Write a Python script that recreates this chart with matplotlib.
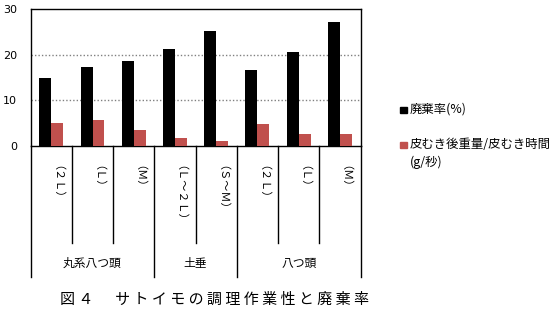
import matplotlib
matplotlib.use("Agg")
import matplotlib.pyplot as plt
from matplotlib.patches import Rectangle
import numpy as np

plt.rcParams['font.family'] = ['Noto Sans CJK JP', 'DejaVu Sans']

sizes = ["（２Ｌ）", "（Ｌ）", "（Ｍ）", "（Ｌ～２Ｌ）", "（Ｓ～Ｍ）", "（２Ｌ）", "（Ｌ）", "（Ｍ）"]
groups = ["丸系八つ頭", "土垂", "八つ頭"]
group_sizes = [3, 2, 3]
waste = [14.9, 17.3, 18.7, 21.3, 25.2, 16.7, 20.6, 27.2]
peel_rate = [5.0, 5.7, 3.5, 1.8, 1.1, 4.8, 2.6, 2.6]
label_waste = "廃棄率(%)"
label_peel = "皮むき後重量/皮むき時間\n(g/秒)"
caption = "図 ４ 　 サ ト イ モ の 調 理 作 業 性 と 廃 棄 率"

W, H = 555, 317
fig = plt.figure(figsize=(W / 100, H / 100), dpi=100)
ax_l, ax_t, ax_r, ax_b = 30.7, 9.3, 360.5, 146
ax = fig.add_axes([ax_l / W, 1 - ax_b / H, (ax_r - ax_l) / W, (ax_b - ax_t) / H])
ax_h = ax_b - ax_t

x = np.arange(len(sizes))
bw = 0.29
ax.bar(x - bw / 2, waste, bw, color="black", zorder=3)
ax.bar(x + bw / 2, peel_rate, bw, color="#c0504d", zorder=3)

ax.set_xlim(-0.5, len(sizes) - 0.5)
ax.set_ylim(0, 30)
ax.set_yticks([0, 10, 20, 30])
ax.set_yticklabels(["0", "10", "20", "30"], family="DejaVu Sans", fontsize=8)
ax.tick_params(axis="y", length=0, pad=10)
ax.set_xticks([])
for v in [10, 20]:
    ax.axhline(v, color="#808080", ls=(0, (1, 1.5)), lw=1, zorder=1)
for s in ax.spines.values():
    s.set_color("black")
    s.set_linewidth(1)

tr = ax.get_xaxis_transform()
# separators below the axis
bounds = np.cumsum([0] + group_sizes) - 0.5
for i in range(len(sizes) + 1):
    xb = i - 0.5
    depth = 131 if xb in bounds else 96.7
    ax.plot([xb, xb], [0, -depth / ax_h], color="black", lw=1,
            transform=tr, clip_on=False)

for i, s in enumerate(sizes):
    ax.text(i, -19 / ax_h, s, rotation=-90, ha="center", va="top",
            fontsize=8, transform=tr)

start = 0
for g, n in zip(groups, group_sizes):
    ax.text(start + (n - 1) / 2, -117 / ax_h, g, ha="center", va="center",
            fontsize=8.5, transform=tr)
    start += n

# legend
for yc, col, lab in [(110, "black", label_waste), (145, "#c0504d", label_peel)]:
    fig.patches.append(Rectangle((400 / W, 1 - (yc + 3.3) / H), 6.6 / W, 6.6 / H,
                                 color=col, transform=fig.transFigure))
    fig.text(410 / W, 1 - (yc - 7.5) / H, lab, ha="left", va="top",
             fontsize=8.9, linespacing=1.5)

fig.text(60 / W, 1 - 300 / H, caption, ha="left", va="center", fontsize=10.8)

fig.savefig("out.png", dpi=100)
